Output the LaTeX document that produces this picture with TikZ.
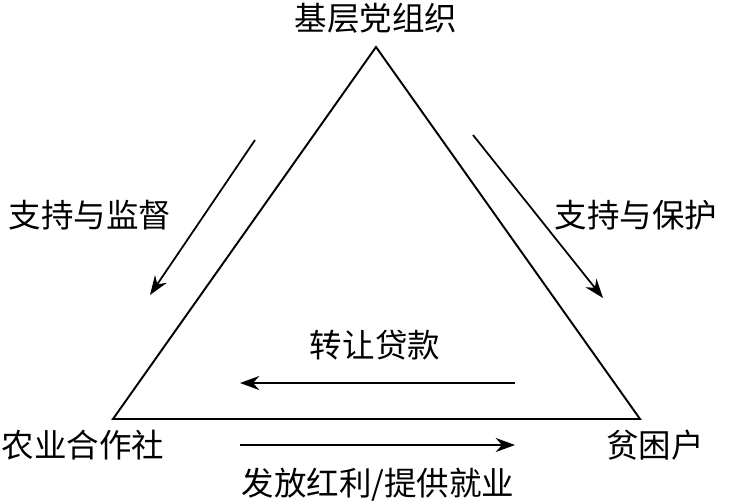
\documentclass[tikz,border=0pt]{standalone}
\usepackage{fontspec}
\newfontfamily\cjk{Noto Sans CJK SC}
\usetikzlibrary{arrows.meta}
\begin{document}
\begin{tikzpicture}[x=0.02cm,y=-0.02cm,
  lab/.style={font=\cjk\fontsize{18.5}{18.5}\selectfont,inner sep=0pt},
  arr/.style={-{Stealth[length=11pt,width=8pt]},line width=1pt}]
\useasboundingbox (0,0) rectangle (729,503);
\coordinate (A) at (376,47);
\coordinate (L) at (113,419);
\coordinate (R) at (640,419);
\draw[line width=1.1pt] (A) -- (L) -- (R) -- cycle;
\node[lab] (top) at (376,18) {基层党组织};
\node[lab] (sl) at (90,215) {支持与监督};
\node[lab] (sr) at (636,215) {支持与保护};
\node[lab] (zr) at (375,345) {转让贷款};
\node[lab] (nh) at (83,445) {农业合作社};
\node[lab] (pk) at (655,445) {贫困户};
\node[lab] (ff) at (378,485) {发放红利/提供就业};
\coordinate (a1) at (255,140); \coordinate (b1) at (150,295);
\coordinate (a2) at (473,135); \coordinate (b2) at (603,298);
\coordinate (a3) at (515,383); \coordinate (b3) at (240,383);
\coordinate (a4) at (240,445); \coordinate (b4) at (515,445);
\draw[arr] (a1) -- (b1);
\draw[arr] (a2) -- (b2);
\draw[arr] (a3) -- (b3);
\draw[arr] (a4) -- (b4);
\end{tikzpicture}
\end{document}
